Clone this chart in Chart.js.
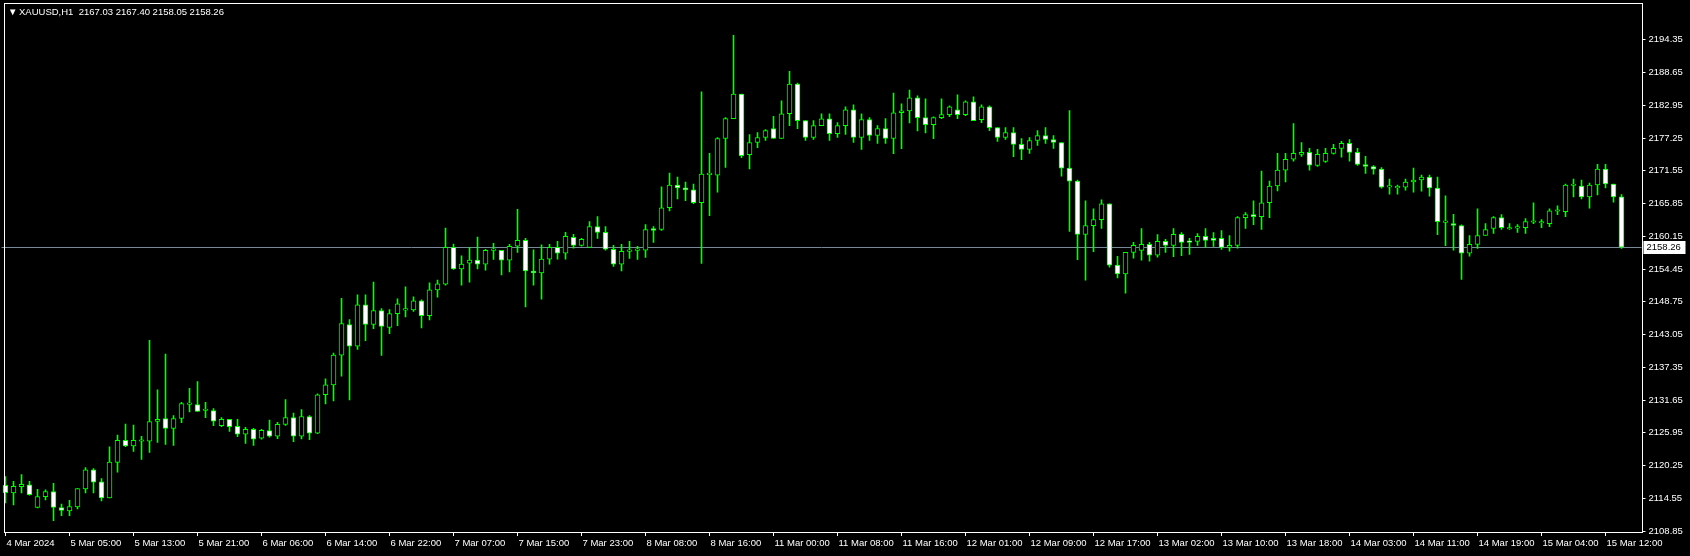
<!DOCTYPE html>
<html>
<head>
<meta charset="utf-8">
<title>XAUUSD,H1</title>
<script src="https://cdn.jsdelivr.net/npm/chart.js@4.4.1/dist/chart.umd.min.js"></script>
<style>
    html, body { margin: 0; padding: 0; background: #000; overflow: hidden; }
</style>
</head>
<body>
<canvas id="priceChart" width="1690" height="556"></canvas>
<script>
// XAUUSD H1, 4 Mar 2024 - 15 Mar 2024
const symbolTitle = 'XAUUSD,H1';
const barsPerLabel = 8;
const shiftBars = 2; // empty space right of the last bar

const timeLabels = ['4 Mar 2024', '5 Mar 05:00', '5 Mar 13:00', '5 Mar 21:00', '6 Mar 06:00', '6 Mar 14:00',
    '6 Mar 22:00', '7 Mar 07:00', '7 Mar 15:00', '7 Mar 23:00', '8 Mar 08:00', '8 Mar 16:00', '11 Mar 00:00',
    '11 Mar 08:00', '11 Mar 16:00', '12 Mar 01:00', '12 Mar 09:00', '12 Mar 17:00', '13 Mar 02:00', '13 Mar 10:00',
    '13 Mar 18:00', '14 Mar 03:00', '14 Mar 11:00', '14 Mar 19:00', '15 Mar 04:00', '15 Mar 12:00'];

const priceTicks = [2108.85, 2114.55, 2120.25, 2125.95, 2131.65, 2137.35, 2143.05, 2148.75,
    2154.45, 2160.15, 2165.85, 2171.55, 2177.25, 2182.95, 2188.65, 2194.35];

const bidPrice = 2158.26;

const openPrices = [
    2116.80, 2115.48, 2116.57, 2116.92, 2112.95, 2114.85, 2115.71, 2112.95, 2112.38, 2113.07,
    2116.17, 2119.50, 2117.43, 2114.62, 2120.82, 2124.66, 2123.69, 2124.49, 2124.49, 2127.93,
    2128.45, 2126.73, 2128.45, 2130.90, 2130.86, 2129.83, 2129.83, 2127.19, 2128.28, 2127.07,
    2125.70, 2126.56, 2125.01, 2126.33, 2125.35, 2127.42, 2128.62, 2125.35, 2128.79, 2125.87,
    2132.58, 2134.30, 2139.47, 2144.81, 2141.02, 2148.25, 2144.81, 2147.22, 2144.29, 2146.70,
    2147.30, 2147.33, 2148.94, 2146.36, 2150.83, 2151.82, 2158.24, 2154.46, 2155.49, 2156.01,
    2155.32, 2157.70, 2157.73, 2156.01, 2158.42, 2159.45, 2154.11, 2153.77, 2156.18, 2158.24,
    2157.21, 2159.97, 2158.59, 2158.24, 2161.86, 2160.83, 2157.90, 2155.32, 2157.53, 2157.70,
    2157.73, 2161.52, 2161.34, 2165.13, 2169.09, 2168.58, 2168.23, 2165.99, 2170.90, 2170.81,
    2177.18, 2180.63, 2184.93, 2174.37, 2176.49, 2177.35, 2178.90, 2177.18, 2181.48, 2186.65,
    2180.28, 2177.35, 2179.42, 2180.62, 2178.04, 2179.42, 2182.17, 2177.35, 2180.45, 2177.70,
    2178.90, 2177.18, 2181.66, 2182.00, 2184.24, 2180.80, 2179.59, 2180.80, 2181.32, 2182.17,
    2181.32, 2183.55, 2180.45, 2182.69, 2179.08, 2177.36, 2178.22, 2176.15, 2175.28, 2176.83,
    2177.69, 2177.00, 2176.49, 2172.01, 2169.77, 2160.47, 2162.02, 2163.06, 2165.81, 2155.14,
    2153.59, 2157.37, 2157.72, 2158.75, 2156.86, 2159.27, 2158.58, 2160.48, 2159.27, 2159.27,
    2160.13, 2159.79, 2159.79, 2158.24, 2158.58, 2163.40, 2163.92, 2163.58, 2165.99, 2168.91,
    2171.67, 2173.56, 2174.42, 2174.77, 2172.48, 2173.17, 2174.60, 2175.46, 2176.32, 2174.77,
    2172.65, 2172.31, 2171.85, 2168.72, 2168.57, 2168.69, 2169.61, 2169.95, 2170.47, 2168.57,
    2162.58, 2162.38, 2162.02, 2157.20, 2158.75, 2160.30, 2161.51, 2163.40, 2161.42, 2161.57,
    2161.68, 2162.60, 2162.47, 2162.37, 2164.52, 2164.43, 2169.00, 2168.91, 2167.02, 2169.08,
    2171.84, 2169.26, 2167.03
];
const highPrices = [
    2118.35, 2117.49, 2118.69, 2117.49, 2116.11, 2116.05, 2117.14, 2113.53, 2114.22, 2116.23,
    2119.90, 2119.73, 2118.00, 2123.52, 2125.58, 2127.48, 2127.30, 2125.35, 2142.06, 2133.45,
    2139.64, 2128.97, 2131.26, 2133.68, 2134.88, 2131.26, 2130.17, 2128.62, 2128.28, 2128.28,
    2126.90, 2126.73, 2126.56, 2128.17, 2127.76, 2131.72, 2129.37, 2130.00, 2128.97, 2132.75,
    2135.34, 2139.81, 2149.34, 2145.67, 2149.97, 2149.97, 2152.21, 2147.56, 2147.39, 2149.28,
    2151.35, 2149.63, 2149.11, 2152.04, 2152.55, 2161.57, 2158.82, 2156.75, 2158.24, 2160.02,
    2157.90, 2158.93, 2157.73, 2158.76, 2164.85, 2159.79, 2157.79, 2158.65, 2158.76, 2159.28,
    2160.83, 2160.48, 2159.79, 2162.72, 2163.58, 2161.86, 2158.59, 2158.76, 2159.28, 2158.42,
    2162.20, 2161.86, 2168.75, 2171.16, 2170.47, 2169.61, 2169.26, 2185.28, 2174.60, 2177.36,
    2180.80, 2195.15, 2184.93, 2177.87, 2178.21, 2178.73, 2181.03, 2183.72, 2188.89, 2186.82,
    2180.28, 2180.28, 2181.48, 2181.48, 2179.93, 2182.69, 2183.03, 2181.48, 2180.80, 2179.42,
    2180.63, 2185.10, 2183.21, 2185.62, 2184.59, 2184.07, 2180.97, 2184.07, 2182.86, 2184.76,
    2183.73, 2184.41, 2183.04, 2182.86, 2179.08, 2179.08, 2179.08, 2177.18, 2177.35, 2178.55,
    2179.07, 2177.69, 2176.49, 2182.05, 2169.95, 2166.33, 2164.95, 2166.50, 2165.81, 2156.69,
    2157.37, 2159.10, 2161.51, 2159.10, 2160.47, 2159.61, 2161.51, 2160.82, 2159.79, 2160.65,
    2161.51, 2160.82, 2161.17, 2160.30, 2163.58, 2164.27, 2166.33, 2171.50, 2169.77, 2174.60,
    2174.60, 2179.76, 2176.49, 2175.46, 2175.29, 2175.46, 2176.15, 2176.67, 2177.01, 2175.46,
    2174.08, 2172.48, 2172.13, 2170.12, 2169.09, 2170.12, 2172.02, 2170.81, 2170.81, 2170.47,
    2167.20, 2163.98, 2162.14, 2160.30, 2164.95, 2162.37, 2163.57, 2163.92, 2162.37, 2162.20,
    2163.23, 2165.98, 2163.06, 2164.95, 2165.47, 2169.26, 2170.12, 2169.94, 2169.43, 2172.70,
    2172.70, 2169.26, 2167.40
];
const lowPrices = [
    2113.76, 2113.41, 2115.48, 2115.08, 2112.90, 2114.27, 2110.66, 2111.52, 2111.52, 2112.72,
    2115.48, 2115.48, 2114.10, 2114.62, 2119.10, 2123.52, 2122.71, 2121.33, 2122.54, 2124.26,
    2123.92, 2123.75, 2127.70, 2129.60, 2129.66, 2128.57, 2127.19, 2127.02, 2126.21, 2125.30,
    2124.09, 2123.75, 2124.84, 2125.18, 2124.95, 2127.25, 2124.43, 2124.89, 2124.78, 2125.81,
    2130.97, 2131.49, 2135.80, 2131.66, 2140.45, 2142.00, 2144.06, 2139.41, 2143.20, 2144.58,
    2146.13, 2147.10, 2144.23, 2145.61, 2149.57, 2151.64, 2154.40, 2151.64, 2152.16, 2154.46,
    2154.28, 2156.12, 2153.42, 2153.94, 2157.33, 2147.86, 2151.64, 2149.23, 2155.32, 2156.18,
    2156.18, 2158.07, 2158.42, 2158.24, 2159.79, 2157.73, 2154.92, 2154.11, 2156.29, 2156.12,
    2156.47, 2159.10, 2161.17, 2164.56, 2166.68, 2166.34, 2165.82, 2155.43, 2163.75, 2167.83,
    2172.13, 2180.63, 2173.85, 2171.90, 2175.57, 2176.84, 2177.18, 2177.18, 2179.42, 2178.90,
    2176.84, 2177.01, 2179.42, 2176.84, 2177.35, 2177.87, 2176.49, 2175.29, 2176.84, 2176.32,
    2176.32, 2174.54, 2175.40, 2179.88, 2178.50, 2178.16, 2177.13, 2180.63, 2180.97, 2180.63,
    2181.14, 2180.28, 2179.94, 2178.56, 2176.67, 2177.01, 2174.03, 2173.51, 2174.59, 2175.97,
    2176.32, 2175.46, 2170.63, 2160.99, 2156.11, 2152.50, 2157.49, 2161.51, 2154.79, 2152.90,
    2150.26, 2156.34, 2156.00, 2155.83, 2156.52, 2157.37, 2156.60, 2156.80, 2157.00, 2158.58,
    2158.24, 2158.41, 2157.89, 2157.55, 2158.07, 2161.51, 2162.20, 2161.34, 2163.40, 2168.05,
    2169.60, 2173.22, 2174.08, 2171.67, 2172.31, 2173.00, 2174.43, 2173.91, 2173.22, 2172.48,
    2171.10, 2170.98, 2168.52, 2167.48, 2167.48, 2168.17, 2167.83, 2168.00, 2167.14, 2160.43,
    2158.53, 2157.73, 2152.67, 2156.69, 2158.06, 2160.30, 2160.65, 2161.34, 2161.34, 2160.82,
    2160.65, 2162.37, 2161.68, 2161.85, 2163.92, 2163.57, 2167.02, 2166.67, 2165.07, 2167.36,
    2168.57, 2166.10, 2158.05
];
const closePrices = [
    2115.53, 2116.63, 2116.97, 2115.19, 2114.85, 2115.71, 2112.95, 2112.44, 2113.13, 2116.23,
    2119.50, 2117.37, 2114.62, 2120.87, 2124.66, 2123.69, 2124.66, 2124.66, 2127.93, 2128.28,
    2126.73, 2128.45, 2131.03, 2131.03, 2129.66, 2129.85, 2127.99, 2128.28, 2127.02, 2125.70,
    2126.56, 2124.84, 2126.39, 2125.35, 2127.42, 2128.62, 2125.35, 2128.79, 2125.87, 2132.58,
    2134.30, 2139.47, 2144.98, 2141.02, 2148.25, 2144.81, 2147.22, 2144.46, 2146.70, 2148.42,
    2147.36, 2148.94, 2146.36, 2150.83, 2151.87, 2158.24, 2154.46, 2155.32, 2156.01, 2155.32,
    2157.73, 2157.76, 2156.01, 2158.42, 2159.45, 2154.11, 2153.77, 2156.18, 2158.24, 2157.21,
    2160.14, 2158.59, 2159.62, 2161.86, 2160.83, 2157.90, 2155.32, 2157.56, 2157.59, 2157.76,
    2161.34, 2161.17, 2165.13, 2169.09, 2168.58, 2168.23, 2165.99, 2170.99, 2170.96, 2177.18,
    2180.63, 2184.93, 2174.20, 2176.49, 2177.35, 2178.56, 2177.18, 2181.48, 2186.65, 2180.28,
    2177.35, 2179.42, 2180.62, 2178.04, 2179.42, 2182.17, 2177.35, 2180.45, 2177.70, 2178.90,
    2177.18, 2181.66, 2182.00, 2184.24, 2180.80, 2179.59, 2180.80, 2181.32, 2182.69, 2181.32,
    2183.55, 2180.28, 2182.69, 2179.08, 2177.36, 2178.22, 2176.15, 2175.29, 2176.83, 2177.69,
    2177.00, 2176.49, 2172.01, 2169.77, 2160.47, 2162.02, 2163.06, 2165.81, 2155.14, 2153.59,
    2157.37, 2158.58, 2158.75, 2156.86, 2159.27, 2158.58, 2160.48, 2159.10, 2159.10, 2160.13,
    2159.44, 2159.44, 2158.24, 2158.58, 2163.40, 2163.92, 2163.58, 2165.99, 2168.91, 2171.67,
    2173.56, 2174.60, 2174.77, 2172.53, 2174.43, 2174.60, 2175.46, 2176.32, 2174.77, 2172.65,
    2172.31, 2171.85, 2168.69, 2168.78, 2168.86, 2169.61, 2169.95, 2170.47, 2168.57, 2162.72,
    2162.64, 2162.03, 2157.20, 2158.75, 2160.30, 2161.33, 2163.40, 2161.68, 2161.48, 2161.63,
    2162.71, 2162.68, 2162.53, 2164.61, 2164.58, 2169.08, 2169.06, 2167.02, 2169.08, 2171.84,
    2169.26, 2167.02, 2158.26
];

window.onload = function () {
    const ctx = document.getElementById('priceChart').getContext('2d');
    const lime = '#00ff00';
    const fontFamily = '"Liberation Sans", Arial, sans-serif';
    const fontSize = 9.5;

    // one category per bar, plus the empty shift at the right
    const barCount = openPrices.length;
    const categories = [];
    for (let i = 0; i < barCount + shiftBars; i++) {
        const k = i / barsPerLabel;
        categories.push(i % barsPerLabel === 0 && k < timeLabels.length ? timeLabels[k] : '');
    }

    const wicks = lowPrices.map((low, i) => [low, highPrices[i]]);
    const bodies = openPrices.map((open, i) => [open, closePrices[i]]);
    const bodyColors = openPrices.map((open, i) => closePrices[i] > open ? '#000000' : '#ffffff');

    // bid line, frame, header text and the price tag
    const terminalDecor = {
        id: 'terminalDecor',
        beforeDatasetsDraw(chart) {
            const { ctx, chartArea, scales } = chart;
            const y = Math.round(scales.y.getPixelForValue(bidPrice)) + 0.5;
            ctx.save();
            ctx.strokeStyle = '#778899';
            ctx.lineWidth = 1;
            ctx.beginPath();
            ctx.moveTo(chartArea.left, y);
            ctx.lineTo(chartArea.right, y);
            ctx.stroke();
            ctx.restore();
        },
        afterDraw(chart) {
            const { ctx, chartArea, scales } = chart;
            ctx.save();
            // frame
            ctx.strokeStyle = '#ffffff';
            ctx.lineWidth = 1;
            ctx.strokeRect(4.5, 3.5, 1638, 529);

            // header
            ctx.fillStyle = '#ffffff';
            ctx.font = fontSize + 'px ' + fontFamily;
            ctx.textBaseline = 'middle';
            ctx.fillText('\u25BC', 8, 12);
            ctx.fillText(symbolTitle + '  ' + [openPrices[barCount - 1], highPrices[barCount - 1],
                lowPrices[barCount - 1], closePrices[barCount - 1]].map(v => v.toFixed(2)).join(' '), 19, 12);

            // bid price tag
            const y = Math.round(scales.y.getPixelForValue(bidPrice));
            ctx.fillStyle = '#ffffff';
            ctx.fillRect(chartArea.right + 2, y - 6, 42, 13);
            ctx.fillStyle = '#000000';
            ctx.fillText(bidPrice.toFixed(2), chartArea.right + 5, y + 0.5);
            ctx.restore();
        }
    };

    new Chart(ctx, {
        type: 'bar',
        data: {
            labels: categories,
            datasets: [
                {
                    label: 'Body',
                    data: bodies,
                    backgroundColor: bodyColors,
                    borderColor: lime,
                    borderWidth: 1,
                    borderSkipped: false,
                    barThickness: 5,
                    minBarLength: 1.5,
                    grouped: false,
                    order: 1
                },
                {
                    label: 'Wick',
                    data: wicks,
                    backgroundColor: lime,
                    borderWidth: 0,
                    barThickness: 1,
                    grouped: false,
                    order: 2
                }
            ]
        },
        options: {
            responsive: false,
            devicePixelRatio: 1,
            animation: false,
            events: [],
            layout: { padding: { left: 1.5, top: 3, right: 0, bottom: 0 } },
            plugins: { legend: { display: false }, tooltip: { enabled: false }, title: { display: false } },
            scales: {
                x: {
                    offset: true,
                    afterBuildTicks: (scale) => {
                        scale.ticks = scale.ticks.filter(t => categories[t.value] !== '');
                    },
                    afterFit: (scale) => { scale.height = 24; },
                    border: { display: false },
                    grid: { offset: false, drawOnChartArea: false, drawTicks: true, tickLength: 4, tickColor: '#ffffff' },
                    ticks: {
                        autoSkip: false, maxRotation: 0, minRotation: 0, align: 'start', labelOffset: 1,
                        padding: 2, color: '#ffffff', font: { family: fontFamily, size: fontSize }
                    }
                },
                y: {
                    position: 'right',
                    min: 2108.69,
                    max: 2199.77,
                    afterBuildTicks: (scale) => {
                        scale.ticks = priceTicks.map(v => ({ value: v }));
                    },
                    afterFit: (scale) => { scale.width = 48.5; },
                    border: { display: false },
                    grid: { drawOnChartArea: false, drawTicks: true, tickLength: 4, tickColor: '#ffffff' },
                    ticks: {
                        padding: 3, color: '#ffffff', font: { family: fontFamily, size: fontSize },
                        callback: (v) => Number(v).toFixed(2)
                    }
                }
            }
        },
        plugins: [terminalDecor]
    });
};
</script>
</body>
</html>
